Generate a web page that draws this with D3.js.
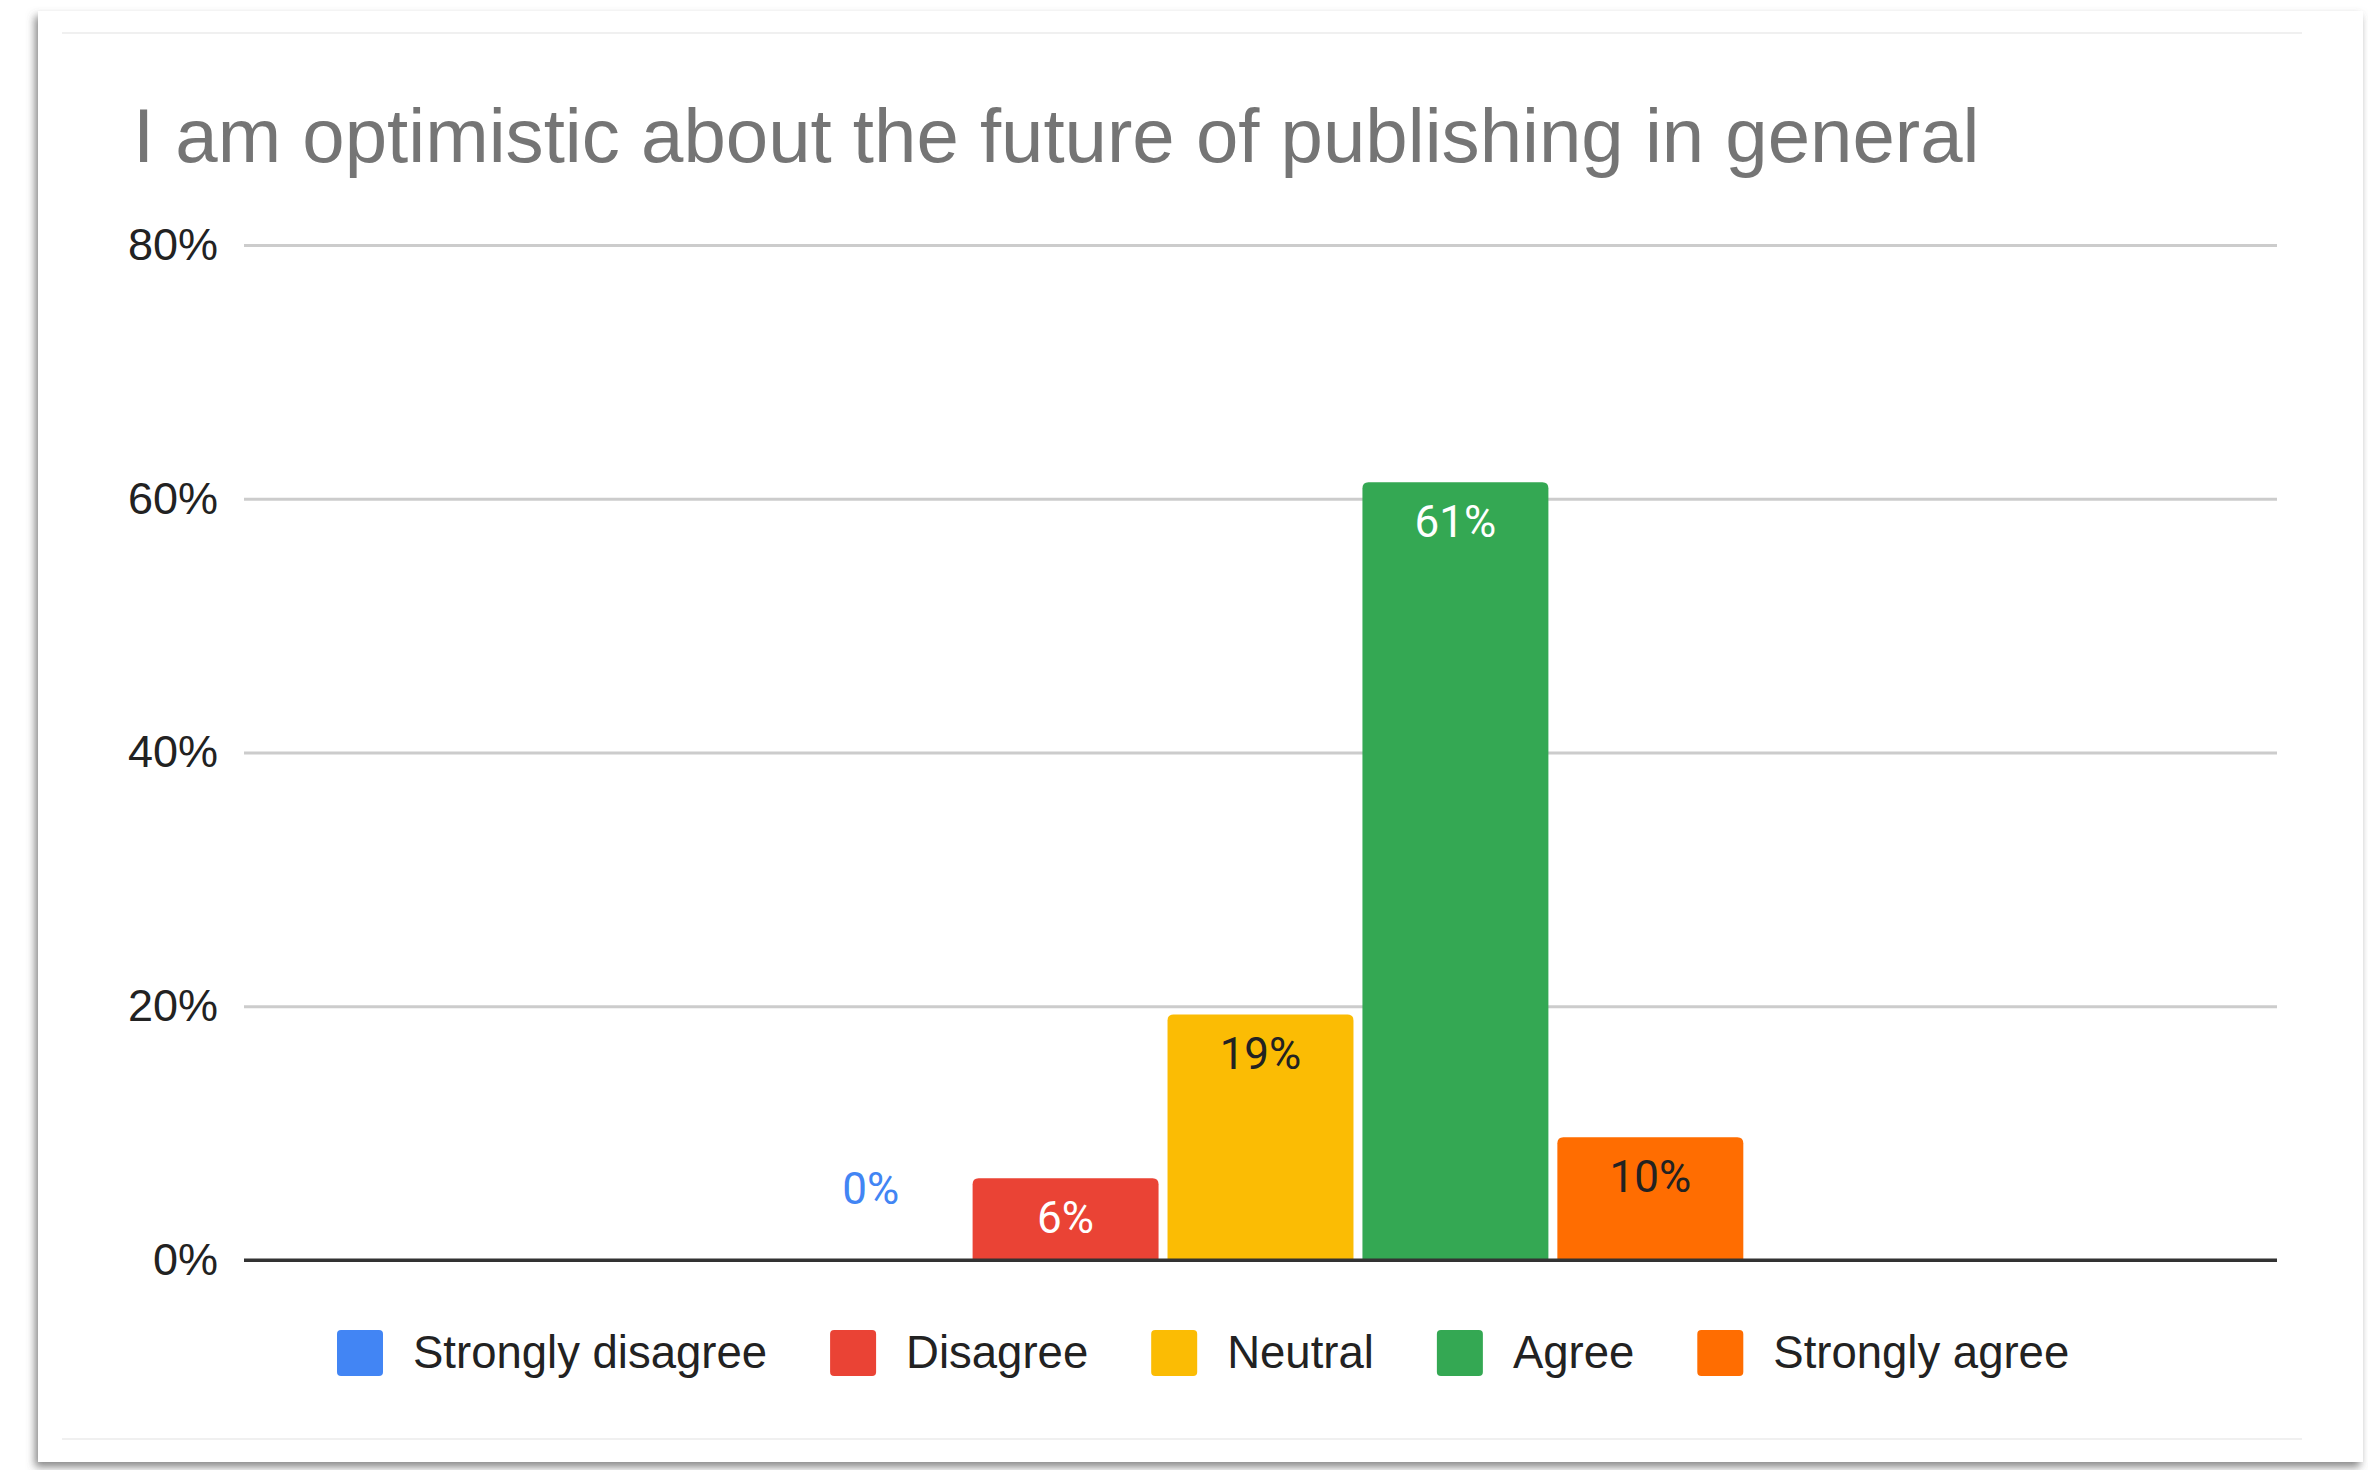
<!DOCTYPE html>
<html lang="en">
<head>
<meta charset="utf-8">
<script src="https://d3js.org/d3.v7.min.js"></script>
<style type="text/css">
body {
	margin: 0;
	background: #fff;
}
</style>
</head>
<body>
<script type="text/javascript">

// Survey answers (percent of respondents)
var categories = [""];
var series = ["Strongly disagree", "Disagree", "Neutral", "Agree", "Strongly agree"];
var values = [0, 6.45, 19.35, 61.3, 9.68];
var colors = ["#4285f4", "#ea4335", "#fbbc04", "#34a853", "#ff6d01"];
var labelColors = ["#4285f4", "#fff", "#222", "#fff", "#222"];
var yTicks = [0, 20, 40, 60, 80];
var title = "I am optimistic about the future of publishing in general";

var width = 2368;
var height = 1470;

var svg = d3.select("body")
			.append("svg")
			.attr("width", width)
			.attr("height", height);

// Card with shadow
var defs = svg.append("defs");
var filter = defs.append("filter")
				 .attr("id", "shadow")
				 .attr("x", "-5%").attr("y", "-5%")
				 .attr("width", "110%").attr("height", "110%");
filter.append("feDropShadow")
	  .attr("dx", -3)
	  .attr("dy", 5)
	  .attr("stdDeviation", 4)
	  .attr("flood-color", "#555")
	  .attr("flood-opacity", 0.7);

svg.append("rect")
   .attr("x", 38)
   .attr("y", 11)
   .attr("width", 2325)
   .attr("height", 1451)
   .style("fill", "#fff")
   .style("filter", "url(#shadow)");

// faint inner frame lines
svg.append("line")
   .attr("x1", 62).attr("x2", 2302)
   .attr("y1", 33).attr("y2", 33)
   .style("stroke", "#f0f0f0").style("stroke-width", 2);
svg.append("line")
   .attr("x1", 62).attr("x2", 2302)
   .attr("y1", 1439).attr("y2", 1439)
   .style("stroke", "#f0f0f0").style("stroke-width", 2);

// Title
svg.append("text")
   .attr("x", 133)
   .attr("y", 162)
   .style("font-family", "'Liberation Sans', Arial, sans-serif")
   .style("font-size", "76.2px")
   .style("fill", "#757575")
   .text(title);

// Scales
var plotLeft = 244, plotRight = 2277;
var y = d3.scaleLinear()
		  .domain([0, 80])
		  .range([1260, 245]);

var x0 = d3.scaleBand()
		   .domain(categories)
		   .range([plotLeft, plotRight])
		   .paddingOuter(0.543);

var x1 = d3.scaleBand()
		   .domain(series)
		   .range([0, x0.bandwidth()])
		   .paddingInner(0.046)
		   .paddingOuter(0.023);

// Gridlines and axis labels
var yAxis = d3.axisLeft(y)
			  .tickValues(yTicks)
			  .tickSize(-(plotRight - plotLeft))
			  .tickPadding(26)
			  .tickFormat(function(d) { return d + "%"; });

var gAxis = svg.append("g")
			   .attr("transform", "translate(" + plotLeft + ",0)")
			   .call(yAxis);

gAxis.select(".domain").remove();
gAxis.selectAll(".tick line")
	 .style("stroke", function(d) { return d === 0 ? "#333" : "#cccccc"; })
	 .style("stroke-width", 3);
gAxis.selectAll(".tick text")
	 .style("font-family", "'Liberation Sans', Arial, sans-serif")
	 .style("font-size", "45px")
	 .style("fill", "#222");

// Bars
var group = svg.append("g")
			   .attr("transform", "translate(" + x0("") + ",0)");

var data = series.map(function(s, i) {
	return {name: s, value: values[i], color: colors[i], labelColor: labelColors[i]};
});

function topRounded(x, yTop, w, h, r) {
	if (h <= 0) return "";
	r = Math.min(r, h);
	return "M" + x + "," + (yTop + h) +
		   "V" + (yTop + r) +
		   "Q" + x + "," + yTop + " " + (x + r) + "," + yTop +
		   "H" + (x + w - r) +
		   "Q" + (x + w) + "," + yTop + " " + (x + w) + "," + (yTop + r) +
		   "V" + (yTop + h) + "Z";
}

group.selectAll("path.bar")
	 .data(data)
	 .enter()
	 .append("path")
	 .attr("class", "bar")
	 .attr("d", function(d) {
		return topRounded(x1(d.name), y(d.value), x1.bandwidth(), y(0) - y(d.value), 6);
	 })
	 .style("fill", function(d) { return d.color; });

// Value labels
group.selectAll("text.value")
	 .data(data)
	 .enter()
	 .append("text")
	 .attr("class", "value")
	 .attr("x", function(d) { return x1(d.name) + x1.bandwidth() / 2; })
	 .attr("y", function(d) {
		if (d.value === 0) return y(0) - 56;
		return y(d.value) + 55;
	 })
	 .attr("text-anchor", "middle")
	 .style("font-family", "Roboto, sans-serif")
	 .style("font-size", "44px")
	 .style("fill", function(d) { return d.labelColor; })
	 .text(function(d) { return Math.round(d.value) + "%"; });

// redraw baseline over the bars
svg.append("line")
   .attr("x1", plotLeft).attr("x2", plotRight)
   .attr("y1", y(0)).attr("y2", y(0))
   .style("stroke", "#333")
   .style("stroke-width", 3);

// Legend
var legend = svg.append("g")
				.attr("transform", "translate(337,1353)");

var cursor = 0;
data.forEach(function(d) {
	var item = legend.append("g")
					 .attr("transform", "translate(" + cursor + ",0)");
	item.append("rect")
		.attr("x", 0)
		.attr("y", -23)
		.attr("width", 46)
		.attr("height", 46)
		.attr("rx", 4)
		.style("fill", d.color);
	var t = item.append("text")
				.attr("x", 76)
				.attr("y", 15)
				.style("font-family", "'Liberation Sans', Arial, sans-serif")
				.style("font-size", "45.5px")
				.style("fill", "#222")
				.text(d.name);
	cursor += 76 + t.node().getComputedTextLength() + 63;
});

</script>
</body>
</html>
